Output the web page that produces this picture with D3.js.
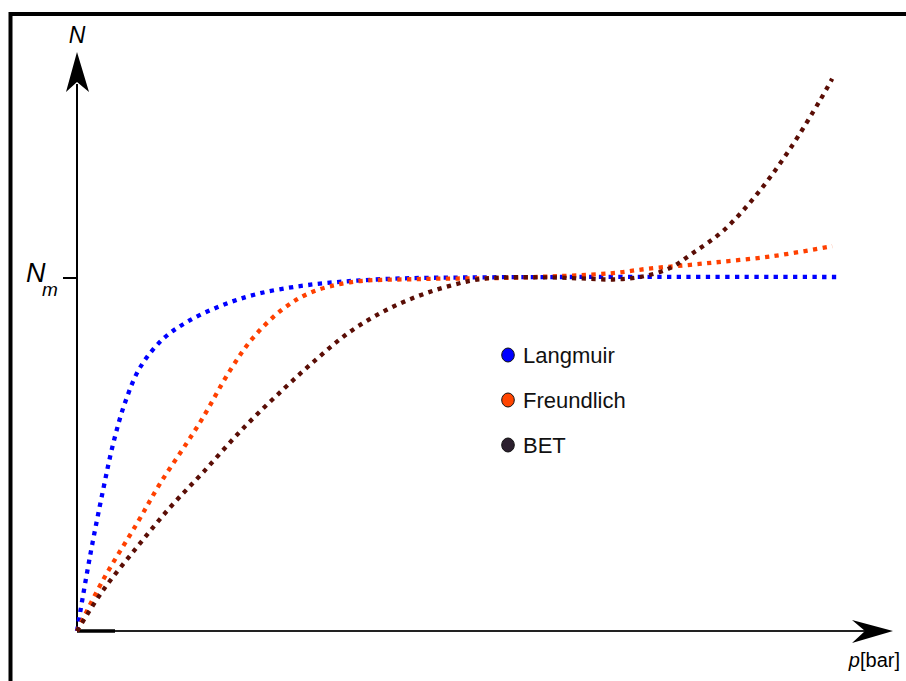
<!DOCTYPE html>
<html>
<head>
<meta charset="utf-8">
<script src="https://cdn.jsdelivr.net/npm/d3@7"></script>
<style>
  html, body { margin: 0; padding: 0; background: #fff; }
  svg { display: block; font-family: "Liberation Sans", Arial, sans-serif; }
</style>
</head>
<body>
<svg id="chart" width="906" height="681"></svg>
<script>
// ---- data (p in arbitrary units, N relative to Nm) ----
const seriesNames = ["Langmuir", "Freundlich", "BET"];
const seriesColors = ["#0000ff", "#ff4000", "#5a0d05"];
const legendColors = ["#0000ff", "#ff4500", "#2b1f2e"];

const langmuir = [
  [0, 0], [0.16, 0.208], [0.325, 0.397], [0.45, 0.527], [0.6, 0.645], [0.79, 0.745],
  [1.075, 0.825], [1.375, 0.873], [1.79, 0.918], [2.25, 0.952], [2.875, 0.977],
  [3.825, 0.994], [5.075, 0.999], [9.54, 1.0]
];
const freundlich = [
  [0, 0], [0.325, 0.144], [0.75, 0.304], [1.04, 0.417], [1.375, 0.532], [1.575, 0.603],
  [1.91, 0.735], [2.2, 0.828], [2.575, 0.91], [2.91, 0.955], [3.41, 0.985],
  [4.25, 0.994], [5.25, 0.997], [6.075, 1.003], [6.7, 1.011], [7.125, 1.023],
  [7.875, 1.039], [8.7, 1.059], [9.44, 1.087]
];
const bet = [
  [0, 0], [0.325, 0.115], [0.75, 0.237], [1.1625, 0.349], [1.575, 0.448], [2.075, 0.572],
  [2.575, 0.682], [3.0, 0.769], [3.41, 0.845], [3.825, 0.902], [4.25, 0.945],
  [4.66, 0.975], [5.075, 0.995], [5.875, 0.999], [6.29, 0.996], [6.7, 0.993],
  [7.04, 1.0], [7.41, 1.025], [7.7, 1.068], [8.075, 1.13], [8.5, 1.234],
  [8.91, 1.361], [9.29, 1.5], [9.44, 1.56]
];
const allSeries = [langmuir, freundlich, bet];
const yTickValues = [1];
const yTickLabels = ["N", "m"];
const axisLabelY = "N";
const axisLabelX = ["p", "[bar]"];

// ---- drawing ----
const svg = d3.select("#chart");
const x = d3.scaleLinear().domain([0, 10]).range([77, 877]);
const y = d3.scaleLinear().domain([0, 1]).range([631, 277]);

// frame
svg.append("rect")
  .attr("x", 10.5).attr("y", 14).attr("width", 1000).attr("height", 1000)
  .attr("fill", "none").attr("stroke", "#000").attr("stroke-width", 4);

// y axis
const x0 = x(0), y0 = y(0);
svg.append("line").attr("x1", x0).attr("x2", x0).attr("y1", y0).attr("y2", 84)
  .attr("stroke", "#000").attr("stroke-width", 2);
svg.append("path")
  .attr("d", `M${x0},52 L${x0 + 12},92 L${x0},82 L${x0 - 11},92 Z`)
  .attr("fill", "#000");
svg.append("text").attr("x", x0).attr("y", 43).attr("text-anchor", "middle")
  .attr("font-size", 23).attr("font-style", "italic").text(axisLabelY);

// x axis
svg.append("line").attr("x1", x0).attr("x2", 867).attr("y1", y0).attr("y2", y0)
  .attr("stroke", "#222").attr("stroke-width", 2);
svg.append("line").attr("x1", x0).attr("x2", 115).attr("y1", y0).attr("y2", y0)
  .attr("stroke", "#000").attr("stroke-width", 3.5);
svg.append("path")
  .attr("d", `M893,${y0} L852,${y0 - 11} L865,${y0} L852,${y0 + 12} Z`)
  .attr("fill", "#000");
const xl = svg.append("text").attr("x", 900).attr("y", 667).attr("text-anchor", "end")
  .attr("font-size", 20);
xl.append("tspan").attr("font-style", "italic").text(axisLabelX[0]);
xl.append("tspan").text(axisLabelX[1]);

// Nm tick
yTickValues.forEach(v => {
  svg.append("line").attr("x1", 63).attr("x2", x0).attr("y1", y(v) + 1).attr("y2", y(v) + 1)
    .attr("stroke", "#000").attr("stroke-width", 2);
  const t = svg.append("text").attr("x", 26).attr("y", 282).attr("font-size", 27)
    .attr("font-style", "italic");
  t.append("tspan").text(yTickLabels[0]);
  t.append("tspan").attr("x", 42).attr("y", 296).attr("font-size", 19).text(yTickLabels[1]);
});

// curves
const line = d3.line().x(d => x(d[0])).y(d => y(d[1])).curve(d3.curveCatmullRom.alpha(0.5));
allSeries.forEach((s, i) => {
  svg.append("path").datum(s).attr("d", line)
    .attr("fill", "none").attr("stroke", seriesColors[i]).attr("stroke-width", 4.3)
    .attr("stroke-dasharray", "4.3,5.4");
});

// legend
seriesNames.forEach((n, i) => {
  const cy = 355 + i * 45;
  svg.append("ellipse").attr("cx", 508).attr("cy", cy).attr("rx", 6.3).attr("ry", 7)
    .attr("fill", legendColors[i]).attr("stroke", "#111").attr("stroke-width", 1);
  svg.append("text").attr("x", 523).attr("y", cy + 7.5).attr("font-size", 22)
    .attr("fill", "#111").text(n);
});
</script>
</body>
</html>
